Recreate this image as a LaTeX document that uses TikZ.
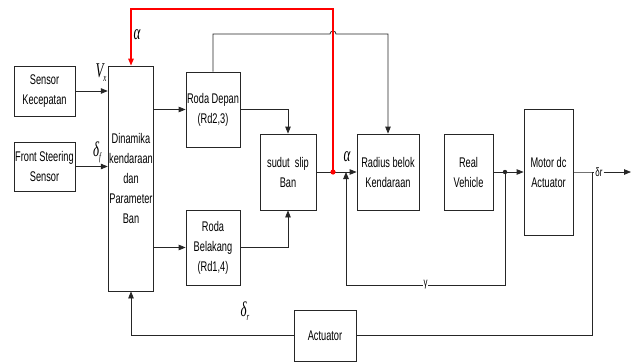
\documentclass[tikz,border=0pt]{standalone}
\usepackage{fontspec}
\setmainfont{Liberation Sans}[FakeStretch=0.66]
\newfontfamily\grk{Liberation Serif}[FakeStretch=0.62]
\usetikzlibrary{arrows.meta}
\newcommand\sublbl[2]{{\grk\itshape #1}\raisebox{-0.18em}{\fontsize{11}{11}\selectfont\grk\itshape #2}}
\begin{document}
\begin{tikzpicture}[x=1pt,y=1pt,
  >={Triangle[length=7pt,width=5.5pt]},
  blk/.style={draw=black!85,line width=0.8pt,rectangle,inner sep=1pt,align=center,
     font=\fontsize{14}{20}\selectfont},
  wire/.style={draw=black!85,line width=0.8pt},
  mlbl/.style={inner sep=0pt,font=\fontsize{21}{21}\selectfont},
  slbl/.style={inner sep=1pt,fill=white,font=\fontsize{12}{12}\selectfont}]
\useasboundingbox (0,0) rectangle (636,-361);
\fill[white] (0,0) rectangle (636,-361);
% blocks
\node[blk,minimum width=61pt,minimum height=50pt] (sensor) at (44.5,-91) {Sensor\\Kecepatan};
\node[blk,minimum width=61pt,minimum height=49pt] (front) at (44.5,-166.5) {Front Steering\\Sensor};
\node[blk,minimum width=44pt,minimum height=225pt] (dyn) at (131,-178.5) {Dinamika\\kendaraan\\dan\\Parameter\\Ban};
\node[blk,minimum width=54pt,minimum height=75pt] (depan) at (213,-109.5) {Roda Depan\\(Rd2,3)};
\node[blk,minimum width=54pt,minimum height=75pt] (belakang) at (213,-247.5) {Roda\\Belakang\\(Rd1,4)};
\node[blk,minimum width=56pt,minimum height=76pt] (slip) at (288,-172) {sudut\ \ slip\\Ban};
\node[blk,minimum width=62pt,minimum height=76pt] (radius) at (388,-172) {Radius belok\\Kendaraan};
\node[blk,minimum width=49pt,minimum height=76pt] (real) at (468.5,-172) {Real\\Vehicle};
\node[blk,minimum width=49pt,minimum height=126pt] (motor) at (548.5,-172) {Motor dc\\Actuator};
\node[blk,minimum width=62pt,minimum height=51pt] (act) at (325,-335.5) {Actuator};
% coordinates
\coordinate (rdot) at (333,-172);
\coordinate (rtop) at (333,-9);
\coordinate (btop) at (213,-34);
\coordinate (fdot) at (505,-172);
\coordinate (fbot) at (505,-285);
\coordinate (sumin) at (346,-172);
\coordinate (jn) at (592,-172);
\coordinate (out) at (631,-172);
% labels
\node[mlbl] (alpha1) at (137,-35) {\grk\itshape α};
\node[mlbl] (alpha2) at (347,-157) {\grk\itshape α};
\node[mlbl] (vx) at (101,-73) {\sublbl{V}{x}};
\node[mlbl] (df) at (97,-152) {\sublbl{δ}{f}};
\node[mlbl] (dr) at (245,-311) {\sublbl{δ}{r}};
\node[slbl] (dro) at (599,-172) {δr};
% connectors
\draw[wire,->] (sensor.east) -- (dyn.west |- sensor.east);
\draw[wire,->] (front.east) -- (dyn.west |- front.east);
\draw[wire,->] (dyn.east |- depan.west) -- (depan.west);
\draw[wire,->] (dyn.east |- belakang.west) -- (belakang.west);
\draw[wire,->] (depan.east) -| (slip.north);
\draw[wire,->] (belakang.east) -| (slip.south);
\draw[wire,->] (slip.east) -- (radius.west);
\draw[wire,->] (depan.north) -- (btop) -- (330,-34) arc[start angle=180,end angle=0,radius=3pt] -- (radius.north |- btop) -- (radius.north);
\draw[draw=red,line width=1.3pt,->] (rdot) -- (rtop) -| (dyn.north);
\fill[red] (rdot) circle (2.6pt);
\draw[wire,->] (real.east) -- (motor.west);
\fill[black!85] (fdot) circle (2.2pt);
\draw[wire,->] (fdot) -- (fbot) -- node[slbl,pos=0.5] (gam) {γ} (fbot -| sumin) -- (sumin);
\draw[wire] (motor.east) -- (jn) -- (dro.west);
\draw[wire,->] (dro.east) -- (out);
\draw[wire] (jn) |- (act.east);
\draw[wire,->] (act.west) -| (dyn.south);
\end{tikzpicture}
\end{document}
